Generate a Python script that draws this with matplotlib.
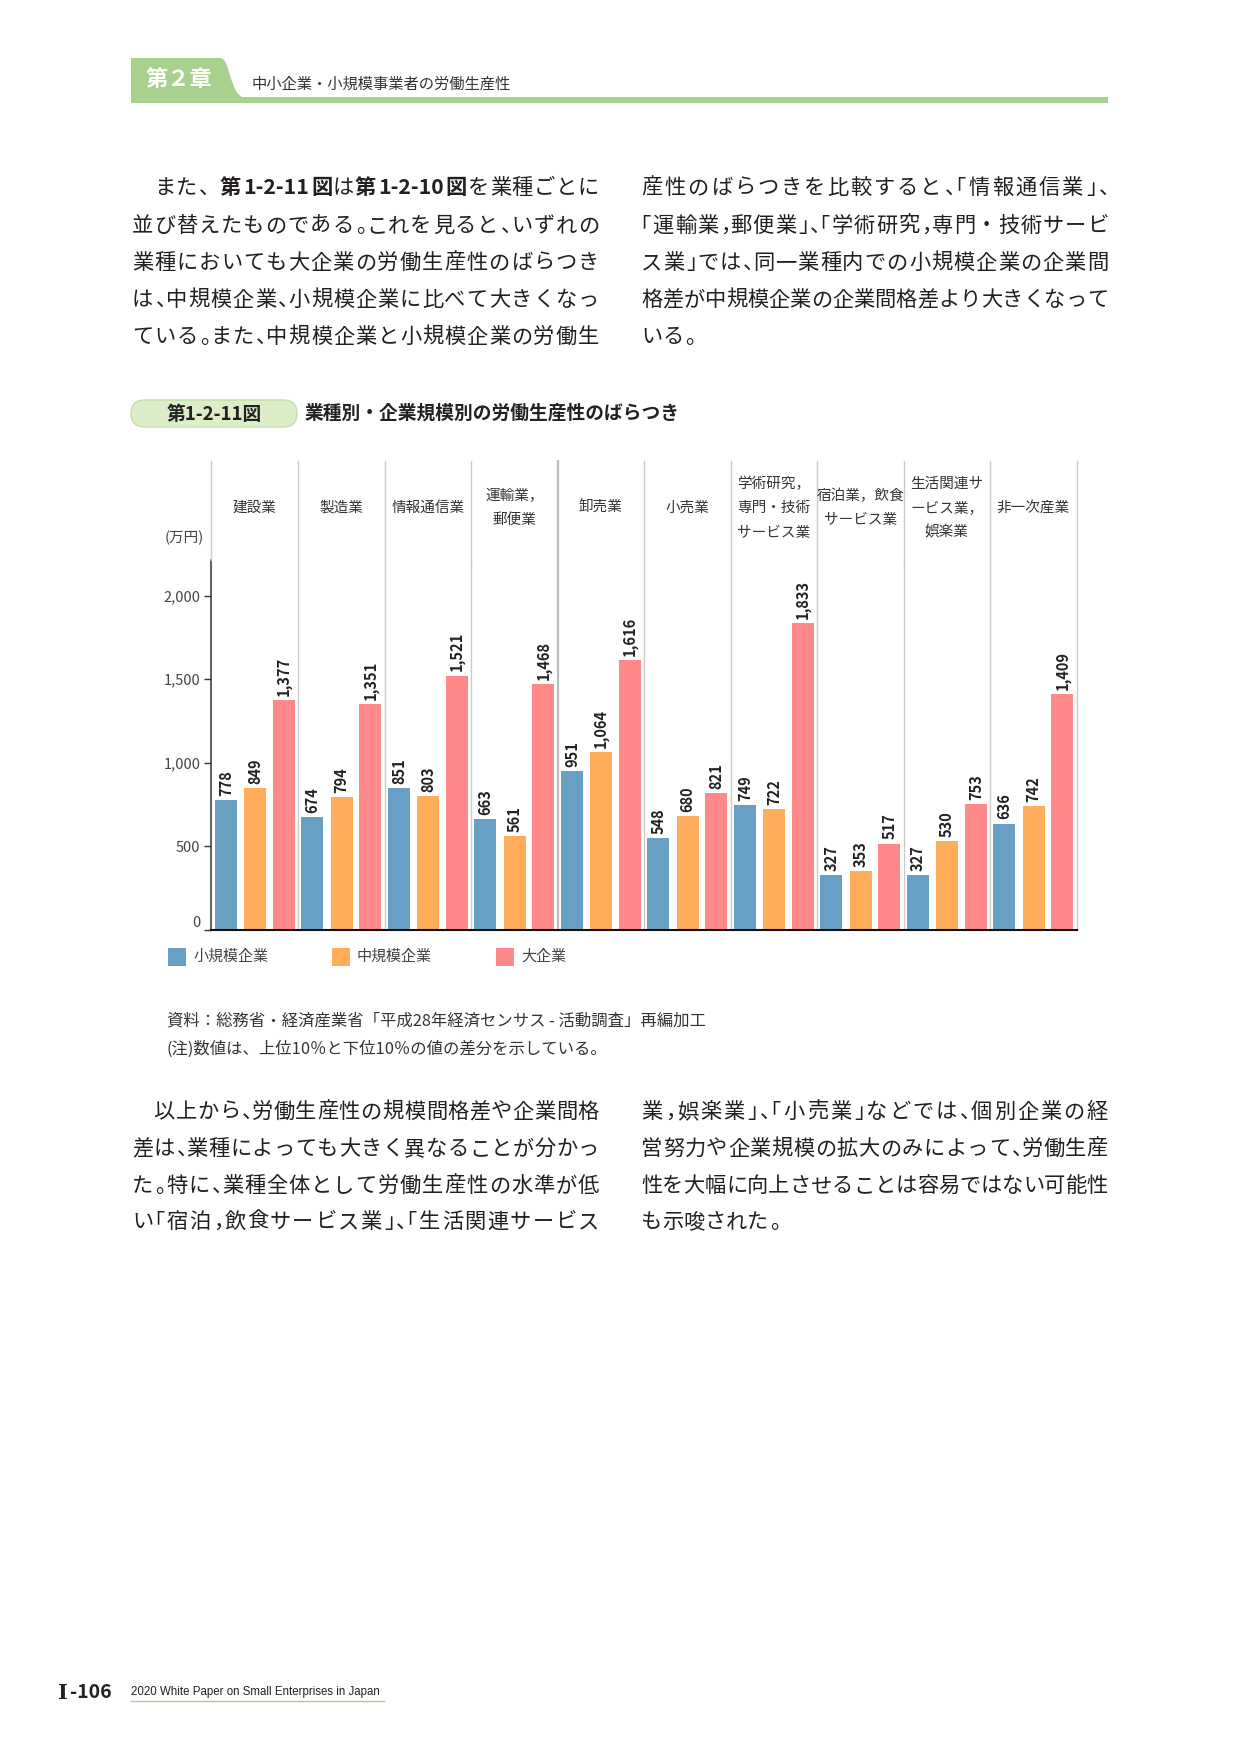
import matplotlib
matplotlib.use("Agg")
import matplotlib.pyplot as plt
from matplotlib.font_manager import FontProperties
from matplotlib.patches import Rectangle, FancyBboxPatch, PathPatch
from matplotlib.path import Path
import numpy as np

plt.rcParams['font.family'] = ['Noto Sans CJK JP', 'DejaVu Sans']

# data (万円, 上位10%と下位10%の差)
industries = ["建設業", "製造業", "情報通信業", "運輸業，\n郵便業", "卸売業", "小売業",
              "学術研究，\n専門・技術\nサービス業", "宿泊業，飲食\nサービス業",
              "生活関連サ\nービス業，\n娯楽業", "非一次産業"]
series = ["小規模企業", "中規模企業", "大企業"]
small = [778, 674, 851, 663, 951, 548, 749, 327, 327, 636]
medium = [849, 794, 803, 561, 1064, 680, 722, 353, 530, 742]
large = [1377, 1351, 1521, 1468, 1616, 821, 1833, 517, 753, 1409]
yticks = [0, 500, 1000, 1500, 2000]
colors = ["#68a0c4", "#ffad5a", "#ff888a"]

para1_left = [
    [("　また、", 0), ("第1-2-11図", 1), ("は", 0), ("第1-2-10図", 1), ("を業種ごとに", 0)],
    [("並び替えたものである。これを見ると、いずれの", 0)],
    [("業種においても大企業の労働生産性のばらつき", 0)],
    [("は、中規模企業、小規模企業に比べて大きくなっ", 0)],
    [("ている。また、中規模企業と小規模企業の労働生", 0)],
]
para1_right = [
    "産性のばらつきを比較すると、「情報通信業」、",
    "「運輸業，郵便業」、「学術研究，専門・技術サービ",
    "ス業」では、同一業種内での小規模企業の企業間",
    "格差が中規模企業の企業間格差より大きくなって",
    "いる。",
]
para2_left = [
    "　以上から、労働生産性の規模間格差や企業間格",
    "差は、業種によっても大きく異なることが分かっ",
    "た。特に、業種全体として労働生産性の水準が低",
    "い「宿泊，飲食サービス業」、「生活関連サービス",
]
para2_right = [
    "業，娯楽業」、「小売業」などでは、個別企業の経",
    "営努力や企業規模の拡大のみによって、労働生産",
    "性を大幅に向上させることは容易ではない可能性",
    "も示唆された。",
]

W, H = 1241, 1754
GREEN = "#a9d18e"
TXT = "#231f20"
fig = plt.figure(figsize=(W / 100, H / 100), dpi=100, facecolor="white")
R = fig.canvas.get_renderer()
bg = fig.add_axes([0, 0, 1, 1])
bg.set_xlim(0, W)
bg.set_ylim(H, 0)
bg.axis("off")

BODY = 15.3
PUNCT_L = "、。，」）"
PUNCT_R = "「（"


def put_line(x0, x1, yc, parts, justify=True, size=BODY):
    if isinstance(parts, str):
        parts = [(parts, 0)]
    em = size * 100 / 72
    toks = []
    for s, bold in parts:
        run = ""
        for c in s:
            if ord(c) < 128:
                run += c
                continue
            if run:
                toks.append((run, bold))
                run = ""
            toks.append((c, bold))
        if run:
            toks.append((run, bold))
    widths = []
    for t, bold in toks:
        if ord(t[0]) >= 128:
            widths.append(em)
        else:
            fp = FontProperties(family="Noto Sans CJK JP", size=size,
                                weight="bold" if bold else "normal")
            widths.append(R.get_text_width_height_descent(t, fp, ismath=False)[0] + 0.12 * em)
    if sum(widths) > x1 - x0:
        widths = [w * 0.5 if (t in PUNCT_L + PUNCT_R and ord(t[0]) >= 128) else w
                  for (t, b), w in zip(toks, widths)]
    gap = (x1 - x0 - sum(widths)) / (len(toks) - 1) if justify else 0
    yb = yc + 0.38 * em
    x = x0
    for (t, bold), w in zip(toks, widths):
        kw = dict(fontsize=size, color=TXT, va="baseline",
                  fontweight="bold" if bold else "normal")
        if t in PUNCT_L and ord(t[0]) >= 128:
            bg.text(x + 0.06 * em, yb, t, ha="left", **kw)
        elif t in PUNCT_R and ord(t[0]) >= 128:
            bg.text(x + w - 0.06 * em, yb, t, ha="right", **kw)
        else:
            bg.text(x + w / 2, yb, t, ha="center", **kw)
        x += w + gap


def put_block(x0, x1, ys, lines, last_open):
    for i, (ln, y) in enumerate(zip(lines, ys)):
        put_line(x0, x1, y, ln, justify=not (last_open and i == len(lines) - 1))


# page header
tab = Path([(131, 103), (131, 58), (220, 58), (231, 58), (229, 97), (246, 98), (246, 103), (131, 103)],
           [Path.MOVETO, Path.LINETO, Path.LINETO, Path.CURVE4, Path.CURVE4, Path.CURVE4,
            Path.LINETO, Path.CLOSEPOLY])
bg.add_patch(PathPatch(tab, facecolor=GREEN, edgecolor="none"))
bg.add_patch(Rectangle((131, 97), 1108 - 131, 6, facecolor=GREEN, edgecolor="none"))
bg.text(179, 80, "第２章", color="white", fontsize=16, fontweight="bold", ha="center", va="center")
bg.text(252, 84, "中小企業・小規模事業者の労働生産性", color="#333333", fontsize=11, va="center")

# body text
ys1 = [186, 224, 261, 298, 335]
put_block(132, 599, ys1, para1_left, False)
put_block(641, 1108, ys1, para1_right, True)
ys2 = [1110, 1147, 1184, 1220]
put_block(132, 599, ys2, para2_left, False)
put_block(641, 1108, ys2, para2_right, True)

# chart title
bg.add_patch(FancyBboxPatch((131, 400), 166, 27, boxstyle="round,pad=0,rounding_size=13.5",
                            facecolor="#dcedc8", edgecolor="#c3dfae", lw=1))
bg.text(214, 414, "第1-2-11図", fontsize=13.5, fontweight="bold", color="#222222", ha="center", va="center")
bg.text(305, 413, "業種別・企業規模別の労働生産性のばらつき", fontsize=13.5, fontweight="bold",
        color="#222222", va="center")

# chart
L, Rt, T, B = 211.5, 1076.5, 560, 930
SEP = "#cbcbcb"
ax = fig.add_axes([L / W, 1 - B / H, (Rt - L) / W, (B - T) / H])
n = len(industries)
x = np.arange(n) + 0.5
offs = [-0.333, 0.004, 0.337]
for vals, off, col in zip([small, medium, large], offs, colors):
    bars = ax.bar(x + off, vals, width=0.255, color=col, zorder=2)
    for b, v in zip(bars, vals):
        ax.annotate(f"{v:,}", (b.get_x() + b.get_width() / 2, v), xytext=(0, 3),
                    textcoords="offset points", rotation=90, ha="center", va="bottom",
                    fontsize=10.5, fontweight="bold", color="#222222")
for i in range(1, n + 1):
    ax.axvline(i, color="#bdbdbd" if i == 4 else SEP, lw=1.6 if i == 4 else 1,
               zorder=0, clip_on=False)
ax.set_xlim(0, n)
ax.set_ylim(0, 2000 * (B - T) / (B - 595.5))
ax.set_xticks([])
ax.set_yticks(yticks)
ax.set_yticklabels([f"{v:,}" for v in yticks])
ax.tick_params(axis="y", length=5, width=1, color="#333333", labelsize=10.5,
               labelcolor="#444444", pad=3)
ax.yaxis.get_major_ticks()[0].label1.set_va("bottom")
for s in ["top", "right"]:
    ax.spines[s].set_visible(False)
ax.spines["left"].set_color("#333333")
ax.spines["left"].set_linewidth(1.1)
ax.spines["bottom"].set_color("#111111")
ax.spines["bottom"].set_linewidth(1.5)
ax.patch.set_alpha(0)

hdr = fig.add_axes([L / W, 1 - T / H, (Rt - L) / W, (T - 461) / H])
hdr.set_xlim(0, n)
hdr.set_ylim(T, 461)
hdr.axis("off")
for i in range(n + 1):
    hdr.axvline(i, color="#bdbdbd" if i == 4 else SEP, lw=1.6 if i == 4 else 1, clip_on=False)
for i, lab in enumerate(industries):
    lines = lab.split("\n")
    for j, ln in enumerate(lines):
        hdr.text(i + 0.5, 508 + (j - (len(lines) - 1) / 2) * 24.5, ln, ha="center", va="center",
                 fontsize=10.5, color="#333333")
bg.text(184, 538, "(万円)", fontsize=10.5, color="#444444", ha="center", va="center")

# legend
for k, (name, col) in enumerate(zip(series, colors)):
    lx = 168 + 164 * k
    bg.add_patch(Rectangle((lx, 948), 18, 18, facecolor=col, edgecolor="none"))
    bg.text(lx + 25, 957, name, fontsize=10.8, color="#444444", va="center")

# notes
bg.text(167, 1021, "資料：総務省・経済産業省「平成28年経済センサス - 活動調査」再編加工",
        fontsize=11.8, color="#333333", va="center")
bg.text(167, 1049, "(注)数値は、上位10％と下位10％の値の差分を示している。",
        fontsize=11.8, color="#333333", va="center")

# footer
bg.text(58, 1693, "I", fontsize=15, fontweight="bold", family="DejaVu Serif", color="#222222", va="center")
bg.text(70, 1692, "-106", fontsize=14, fontweight="bold", color="#222222", va="center")
bg.text(131, 1692, "2020 White Paper on Small Enterprises in Japan", fontsize=8.3,
        family="Liberation Sans", color="#222222", va="center")
bg.plot([131, 384], [1701, 1701], color=GREEN, lw=1)

fig.savefig("out.png", dpi=100, facecolor="white")
